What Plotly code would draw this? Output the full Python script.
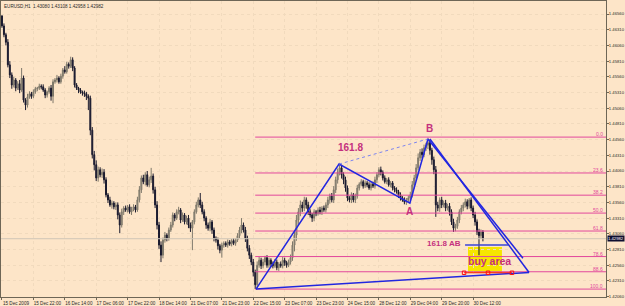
import plotly.graph_objects as go

# ---------------- data (EURUSD H1, prices in pips above 1.4000) ----------------
BASE = 1.4
first_open_pips = 653
close_pips = [
    637, 623, 611, 575, 559, 543, 551, 538, 545, 535,
    554, 519, 511, 524, 529, 525, 532, 537, 538, 541,
    540, 535, 527, 532, 538, 525, 548, 551, 554, 548,
    557, 567, 564, 576, 573, 583, 570, 543, 538, 535,
    532, 530, 529, 525, 522, 471, 432, 416, 395, 408,
    400, 404, 392, 368, 360, 352, 355, 349, 352, 336,
    320, 341, 347, 344, 349, 341, 346, 349, 344, 360,
    376, 395, 389, 400, 384, 392, 398, 376, 352, 320,
    288, 272, 296, 304, 299, 312, 320, 336, 331, 341,
    344, 328, 336, 325, 331, 320, 315, 325, 341, 352,
    360, 352, 341, 331, 320, 315, 325, 312, 299, 296,
    287, 280, 288, 291, 288, 293, 290, 295, 291, 296,
    303, 312, 320, 312, 299, 283, 272, 261, 245, 225,
    256, 264, 255, 261, 268, 256, 264, 258, 255, 261,
    252, 258, 255, 264, 260, 256, 261, 268, 288, 304,
    328, 341, 352, 347, 360, 352, 341, 336, 331, 341,
    338, 344, 341, 347, 344, 352, 360, 366, 360, 376,
    392, 404, 411, 400, 392, 379, 363, 360, 368, 360,
    366, 379, 385, 389, 382, 387, 384, 379, 385, 382,
    392, 400, 408, 404, 395, 389, 392, 384, 387, 379,
    376, 373, 368, 363, 360, 357, 360, 363, 368, 384,
    395, 411, 427, 436, 432, 443, 447, 451, 439, 424,
    408, 352, 347, 360, 352, 355, 347, 350, 341, 325,
    315, 318, 328, 341, 347, 352, 357, 350, 360, 347,
    336, 325, 309, 303, 309, 298,
]
up_wick = [
    1, 4, 3, 5, 6, 4, 5, 3, 4, 6, 16, 4, 3, 5, 4, 3, 4, 3, 2, 4,
    3, 4, 3, 2, 3, 5, 4, 3, 5, 3, 4, 3, 6, 4, 3, 5, 4, 3, 3, 2,
    3, 2, 4, 3, 3, 4, 5, 6, 7, 5, 4, 6, 5, 4, 3, 5, 4, 3, 4, 4,
    4, 5, 3, 4, 3, 4, 3, 4, 3, 5, 6, 4, 5, 4, 6, 5, 13, 4, 5, 6,
    5, 6, 4, 5, 3, 4, 5, 4, 3, 4, 5, 3, 4, 3, 4, 5, 4, 3, 4, 5,
    4, 11, 5, 4, 3, 4, 5, 3, 4, 3, 4, 3, 4, 3, 3, 4, 3, 3, 4, 3,
    4, 5, 11, 4, 5, 4, 5, 4, 5, 4, 6, 5, 4, 5, 3, 4, 4, 3, 4, 5,
    4, 3, 4, 5, 4, 3, 4, 5, 6, 7, 8, 6, 7, 5, 5, 4, 5, 4, 3, 4,
    3, 4, 5, 3, 4, 4, 5, 4, 5, 6, 5, 6, 8, 5, 4, 5, 4, 3, 4, 3,
    4, 5, 3, 4, 3, 4, 3, 4, 3, 4, 5, 4, 4, 5, 3, 4, 3, 4, 3, 3,
    3, 4, 3, 4, 3, 4, 3, 4, 5, 6, 5, 6, 7, 5, 6, 5, 4, 8, 5, 4,
    5, 6, 5, 4, 5, 4, 5, 4, 5, 4, 5, 4, 5, 4, 5, 4, 5, 4, 3, 4,
    4, 5, 4, 5, 4, 3,
]
dn_wick = [
    3, 4, 5, 4, 5, 6, 4, 5, 3, 5, 3, 4, 8, 4, 3, 4, 3, 3, 4, 3,
    4, 3, 5, 4, 3, 7, 11, 3, 4, 3, 3, 4, 3, 3, 4, 3, 5, 4, 3, 5,
    3, 4, 5, 6, 19, 8, 6, 9, 5, 6, 4, 5, 6, 4, 5, 3, 6, 4, 5, 7,
    13, 4, 5, 3, 4, 3, 5, 4, 4, 3, 4, 5, 4, 6, 3, 4, 5, 6, 5, 7,
    6, 11, 5, 4, 5, 4, 3, 4, 5, 3, 4, 5, 3, 4, 4, 5, 6, 35, 4, 3,
    4, 5, 4, 5, 6, 4, 5, 6, 5, 4, 6, 5, 12, 4, 3, 4, 3, 4, 3, 4,
    3, 4, 5, 4, 6, 5, 6, 5, 7, 7, 5, 4, 5, 4, 5, 4, 4, 5, 4, 3,
    4, 5, 3, 4, 5, 4, 3, 4, 5, 10, 9, 8, 7, 6, 5, 6, 5, 4, 6, 5,
    4, 3, 4, 5, 3, 4, 5, 6, 4, 5, 5, 6, 5, 6, 7, 6, 5, 4, 5, 4,
    5, 4, 4, 3, 4, 3, 4, 3, 4, 3, 4, 5, 4, 5, 4, 3, 4, 3, 4, 4,
    4, 3, 5, 4, 3, 4, 5, 4, 5, 4, 6, 5, 4, 5, 6, 4, 5, 6, 7, 8,
    7, 19, 5, 6, 5, 4, 5, 4, 6, 5, 6, 5, 4, 5, 4, 5, 4, 5, 4, 5,
    5, 6, 5, 31, 5, 4,
]

tick_idx = [0, 16, 32, 48, 64, 80, 96, 112, 128, 144, 160, 176, 192, 208, 224, 240]
tick_text = ["15 Dec 2009", "15 Dec 22:00", "16 Dec 14:00", "17 Dec 06:00",
             "17 Dec 22:00", "18 Dec 14:00", "21 Dec 07:00", "21 Dec 23:00",
             "22 Dec 15:00", "23 Dec 07:00", "23 Dec 23:00", "24 Dec 15:00",
             "28 Dec 12:00", "29 Dec 04:00", "29 Dec 20:00", "30 Dec 12:00"]

current_price = 1.42982
title_text = "EURUSD,H1  1.43080 1.43108 1.42958 1.42982"

fib_high = 1.4460
fib_low = 1.4218
fib_levels = [0.0, 23.6, 38.2, 50.0, 61.8, 78.6, 88.6, 100.0]
fib_labels = ["0.0", "23.6", "38.2", "50.0", "61.8", "78.6", "88.6", "100.0"]
fib_start_idx = 129

# harmonic pattern drawing: start, X, A, B  (bar index, price)
pat_idx = [129.4, 171.7, 207.8, 217.0]
pat_price = [1.4218, 1.4417, 1.4355, 1.4457]
# trend lines from B
line1_idx = [217.0, 265.4]
line1_price = [1.4457, 1.4267]
line2_idx = [218.0, 268.5]
line2_price = [1.4457, 1.42445]
base_idx = [129.4, 268.5]
base_price = [1.4218, 1.42445]
ab_idx = [235.9, 257.8]
ab_price = 1.4288
buy_idx = [237.4, 254.7]
buy_price = [1.4244, 1.4285]
red_idx = [235.4, 247.6, 259.8]
red_price = 1.4244

X_RANGE = [-0.5, 307.7]
Y_RANGE = [1.42054, 1.46767]

# ---------------- build OHLC ----------------
n = len(close_pips)
closes = [BASE + c / 10000 for c in close_pips]
opens = [BASE + first_open_pips / 10000] + closes[:-1]
highs = [max(o, c) + u / 10000 for o, c, u in zip(opens, closes, up_wick)]
lows = [min(o, c) - d / 10000 for o, c, d in zip(opens, closes, dn_wick)]
idx = list(range(n))

BG = "#FDE5C8"
PINK = "#E2489C"
MAG = "#C4307E"
BLUE = "#2226E0"
AXC = "#6E6656"
TXT = "#2A2A2A"
GRID = "#F1DABD"

fig = go.Figure()

# current price line (behind candles)
fig.add_trace(go.Scatter(x=X_RANGE, y=[current_price, current_price], mode="lines",
                         line=dict(color="#CFC6B6", width=1), hoverinfo="skip", showlegend=False))

# fib lines
for lv in fib_levels:
    p = fib_high - lv / 100 * (fib_high - fib_low)
    fig.add_trace(go.Scatter(x=[fib_start_idx, X_RANGE[1]], y=[p, p], mode="lines",
                             line=dict(color=PINK, width=1), hoverinfo="skip", showlegend=False))

# yellow buy area
fig.add_shape(type="rect", xref="x", yref="y", x0=buy_idx[0], x1=buy_idx[1],
              y0=buy_price[0], y1=buy_price[1], fillcolor="#F6E600", line=dict(width=0), layer="below")

fig.add_trace(go.Candlestick(
    x=idx, open=opens, high=highs, low=lows, close=closes,
    increasing=dict(line=dict(color="#7E786A", width=1), fillcolor="#A19B8C"),
    decreasing=dict(line=dict(color="#1A1A2E", width=1), fillcolor="#121236"),
    whiskerwidth=0, showlegend=False, hoverinfo="skip"))

# pattern lines
fig.add_trace(go.Scatter(x=pat_idx, y=pat_price, mode="lines",
                         line=dict(color=BLUE, width=1.5), hoverinfo="skip", showlegend=False))
fig.add_trace(go.Scatter(x=[pat_idx[1], pat_idx[3]], y=[pat_price[1], pat_price[3]], mode="lines",
                         line=dict(color="#7C84F0", width=1, dash="dot"), hoverinfo="skip", showlegend=False))
for xs, ys in [(line1_idx, line1_price), (line2_idx, line2_price), (base_idx, base_price)]:
    fig.add_trace(go.Scatter(x=xs, y=ys, mode="lines", line=dict(color=BLUE, width=1.5),
                             hoverinfo="skip", showlegend=False))
fig.add_trace(go.Scatter(x=ab_idx, y=[ab_price, ab_price], mode="lines",
                         line=dict(color="#3A44D8", width=1.5), hoverinfo="skip", showlegend=False))
fig.add_trace(go.Scatter(x=red_idx, y=[red_price] * len(red_idx), mode="lines+markers",
                         line=dict(color="#FF1010", width=1),
                         marker=dict(symbol="square-open", size=3.5, color="#FF1010", line=dict(width=1)),
                         hoverinfo="skip", showlegend=False))

ann = []
for lv, lab in zip(fib_levels, fib_labels):
    p = fib_high - lv / 100 * (fib_high - fib_low)
    ann.append(dict(xref="paper", yref="y", x=0.996, y=p, text=lab, showarrow=False,
                    xanchor="right", yanchor="bottom", font=dict(size=5, color=PINK,
                    family="Liberation Sans"), borderpad=0, yshift=-1))

bold = "Liberation Sans"
ann += [
    dict(xref="x", yref="y", x=177.5, y=1.4443, text="<b>161.8</b>", showarrow=False,
         font=dict(size=10, color=MAG, family=bold)),
    dict(xref="x", yref="y", x=218.0, y=1.4473, text="<b>B</b>", showarrow=False,
         font=dict(size=10, color=MAG, family=bold)),
    dict(xref="x", yref="y", x=207.8, y=1.4341, text="<b>A</b>", showarrow=False,
         font=dict(size=10, color=MAG, family=bold)),
    dict(xref="x", yref="y", x=225.0, y=1.4290, text="<b>161.8 AB</b>", showarrow=False,
         font=dict(size=8, color=MAG, family=bold)),
    dict(xref="x", yref="y", x=248.5, y=1.4262, text="<b>buy area</b>", showarrow=False,
         font=dict(size=10.5, color=MAG, family=bold)),
    dict(xref="paper", yref="paper", x=0, y=1, text=title_text, showarrow=False,
         xanchor="left", yanchor="top", xshift=1, yshift=-1,
         font=dict(size=4.6, color=TXT, family="Liberation Sans")),
    dict(xref="paper", yref="y", x=1, y=current_price, text="1.42982", showarrow=False,
         xanchor="left", yanchor="middle", xshift=1, bgcolor="#0E0E30", borderpad=0,
         font=dict(size=4.2, color="#FFFFFF", family="Liberation Sans")),
]

fig.update_layout(
    width=625, height=306,
    margin=dict(l=1, r=19, t=1, b=9, autoexpand=False),
    paper_bgcolor=BG, plot_bgcolor=BG,
    showlegend=False,
    annotations=ann,
    font=dict(family="Liberation Sans", size=5, color=TXT),
)
fig.update_xaxes(
    range=X_RANGE, tickmode="array", tickvals=tick_idx, ticktext=tick_text,
    tickangle=0, automargin=False,
    ticks="outside", ticklen=2, tickcolor=AXC, tickfont=dict(size=4.6, color=TXT),
    ticklabelshift=14, ticklabelstandoff=-1,
    showline=True, linecolor=AXC, linewidth=1, mirror=True,
    showgrid=True, gridcolor=GRID, griddash="dot", gridwidth=1,
    zeroline=False, rangeslider=dict(visible=False), fixedrange=True,
)
fig.update_yaxes(
    range=Y_RANGE, side="right", tick0=1.4206, dtick=0.0025, tickformat=".5f",
    automargin=False,
    ticks="outside", ticklen=2, tickcolor=AXC, tickfont=dict(size=4.2, color=TXT),
    ticklabelstandoff=-1,
    showline=True, linecolor=AXC, linewidth=1, mirror=True,
    showgrid=True, gridcolor=GRID, griddash="dot", gridwidth=1,
    zeroline=False, fixedrange=True,
)

fig.write_html("out.html")
